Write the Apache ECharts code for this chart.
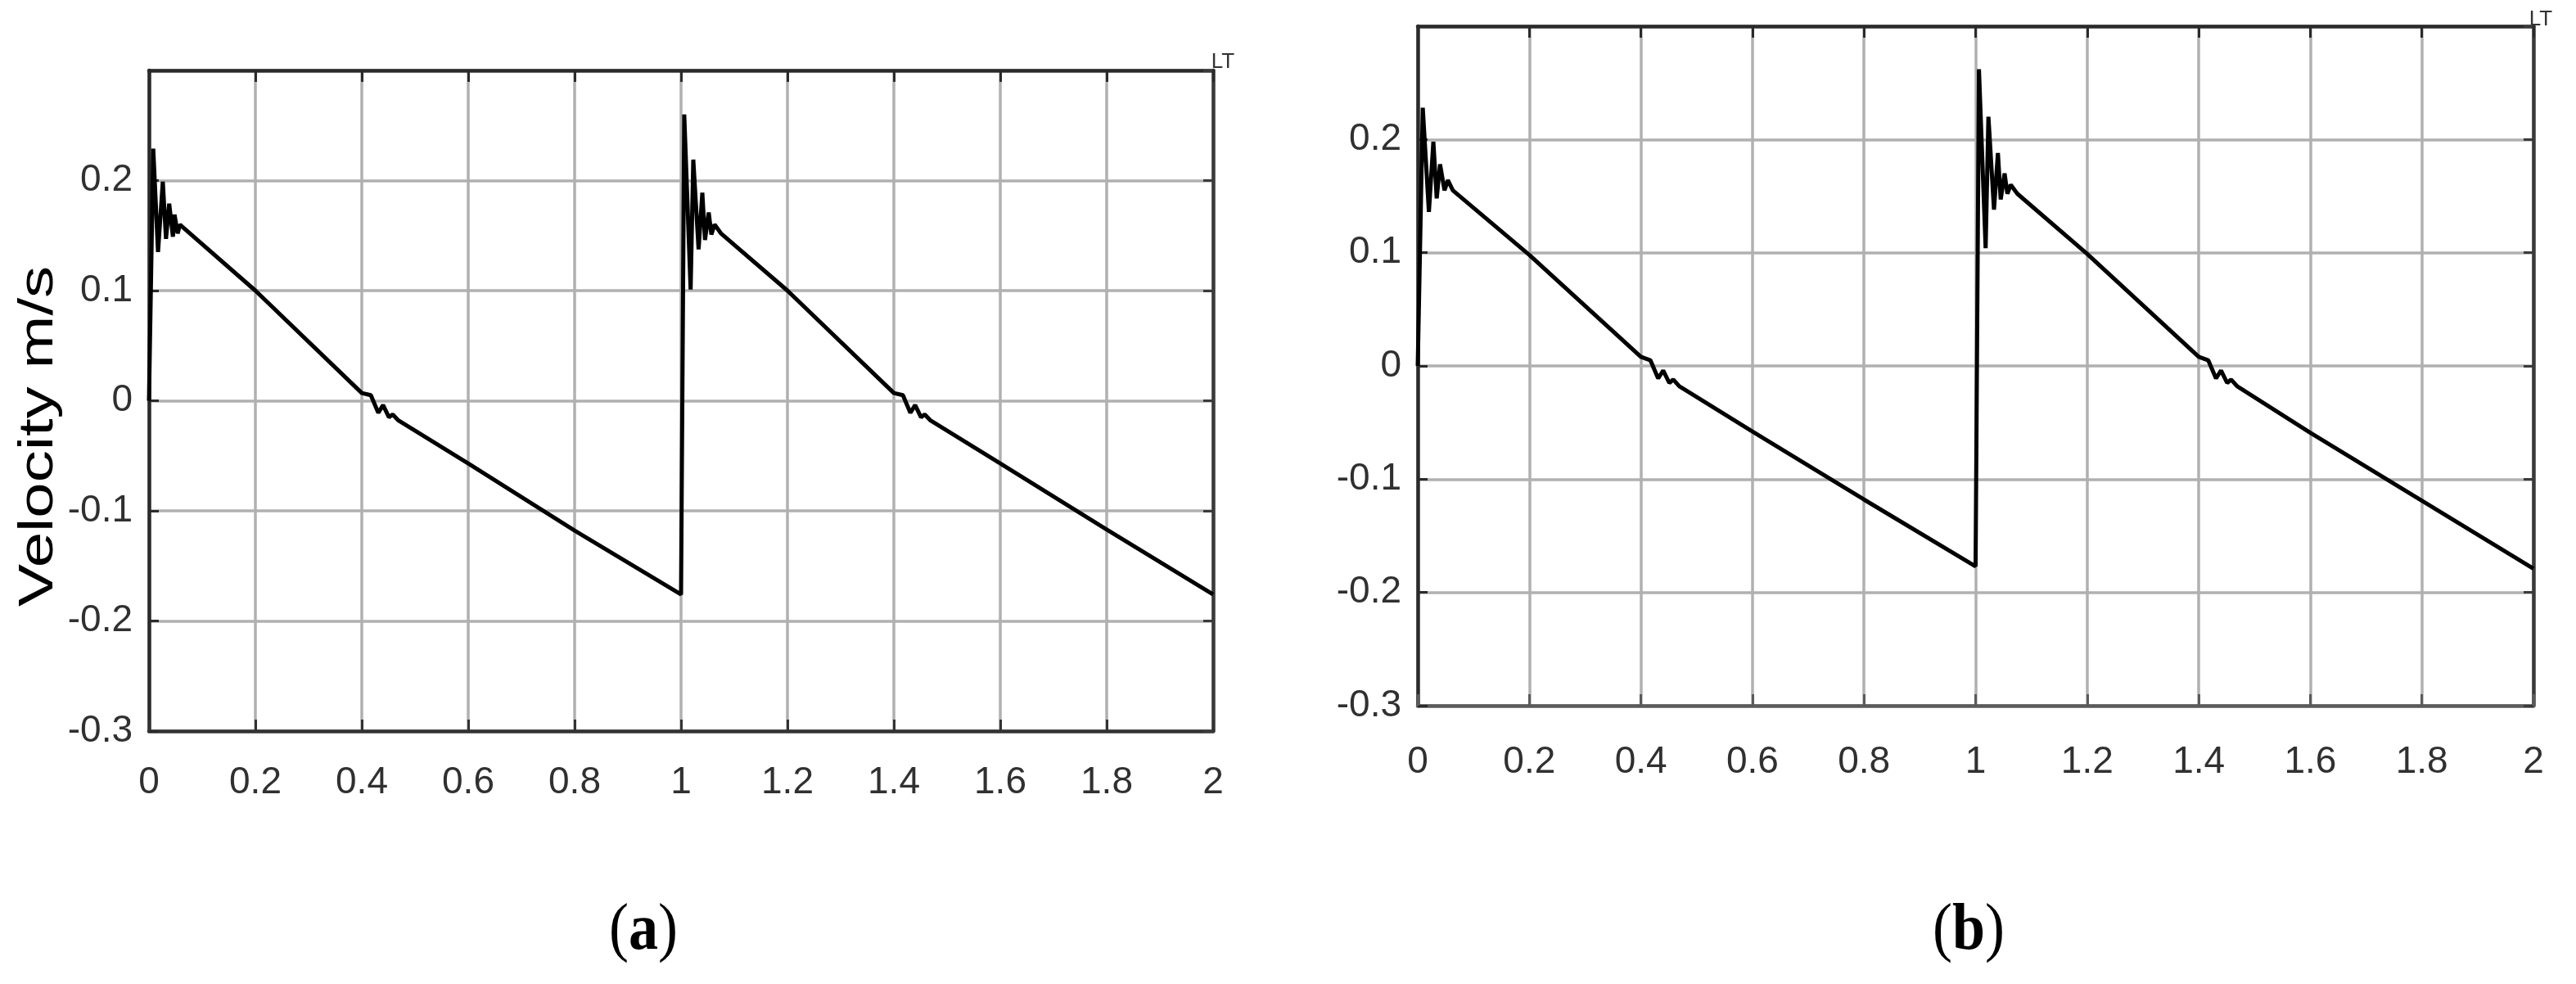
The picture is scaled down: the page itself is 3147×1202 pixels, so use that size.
<!DOCTYPE html>
<html>
<head>
<meta charset="utf-8">
<script src="https://cdn.jsdelivr.net/npm/echarts@6/dist/echarts.min.js"></script>
<style>
  html, body { margin: 0; padding: 0; background: #fff; }
  #chart { width: 3147px; height: 1202px; }
</style>
</head>
<body>
<div id="chart"></div>
<script>
// time (s) and velocity (m/s)
const timeA = [0, 0.008, 0.017, 0.026, 0.032, 0.038, 0.045, 0.048, 0.054, 0.058,
  0.2, 0.4, 0.417, 0.431, 0.44, 0.451, 0.458, 0.469, 0.6, 0.8, 1.0,
  1.006, 1.018, 1.023, 1.033, 1.04, 1.045, 1.052, 1.057, 1.063, 1.075,
  1.2, 1.4, 1.417, 1.431, 1.44, 1.451, 1.458, 1.469, 1.6, 1.8, 2.0]
const velA = [0, 0.229, 0.135, 0.199, 0.147, 0.179, 0.149, 0.169, 0.152, 0.16,
  0.1, 0.007, 0.005, -0.011, -0.004, -0.015, -0.0125, -0.018, -0.057, -0.118, -0.176,
  0.26, 0.101, 0.219, 0.1375, 0.189, 0.146, 0.171, 0.151, 0.16, 0.152,
  0.1, 0.007, 0.005, -0.011, -0.004, -0.015, -0.0125, -0.018, -0.057, -0.117, -0.176]

// panel (b)
const timeB = [0, 0.009, 0.02, 0.028, 0.034, 0.04, 0.048, 0.054, 0.063,
  0.2, 0.4, 0.417, 0.431, 0.44, 0.451, 0.458, 0.469, 0.6, 0.8, 1.0,
  1.006, 1.018, 1.023, 1.033, 1.04, 1.045, 1.052, 1.057, 1.063, 1.075,
  1.2, 1.4, 1.417, 1.431, 1.44, 1.451, 1.458, 1.469, 1.6, 1.8, 2.0]
const velB = [0, 0.228, 0.136, 0.198, 0.148, 0.178, 0.155, 0.164, 0.155,
  0.098, 0.008, 0.005, -0.011, -0.004, -0.015, -0.012, -0.018, -0.058, -0.118, -0.177,
  0.262, 0.104, 0.22, 0.138, 0.188, 0.147, 0.17, 0.152, 0.16, 0.152,
  0.099, 0.008, 0.005, -0.011, -0.004, -0.015, -0.012, -0.018, -0.059, -0.119, -0.179]

// axis ranges / tick steps
const xRange = [0, 2]
const xStep = 0.2
const yRange = [-0.3, 0.3]
const yStep = 0.1

const panelLabels = ['a', 'b']
const yName = 'Velocity m/s'

const tickFont = '"Liberation Sans", sans-serif'
const axisColor = '#2a2a2a'
const gridColor = '#b0b0b0'

function xAxes (gi, labelMargin, bottomColor) {
  return [{
    gridIndex: gi,
    type: 'value',
    position: 'bottom',
    min: xRange[0],
    max: xRange[1],
    interval: xStep,
    axisLine: { show: true, onZero: false, lineStyle: { color: bottomColor, width: 4.5 } },
    axisTick: { show: true, inside: true, length: 14, lineStyle: { color: bottomColor, width: 3 } },
    axisLabel: { margin: labelMargin, color: '#303030', fontSize: 46, fontFamily: tickFont },
    splitLine: { show: true, lineStyle: { color: gridColor, width: 3.5 } }
  }, {
    gridIndex: gi,
    type: 'value',
    position: 'top',
    min: xRange[0],
    max: xRange[1],
    interval: xStep,
    axisLine: { show: true, onZero: false, lineStyle: { color: axisColor, width: 4.5 } },
    axisTick: { show: true, inside: true, length: 14, lineStyle: { color: axisColor, width: 3 } },
    axisLabel: { show: false },
    splitLine: { show: false }
  }]
}

function yAxes (gi) {
  return [{
    gridIndex: gi,
    type: 'value',
    position: 'left',
    min: yRange[0],
    max: yRange[1],
    interval: yStep,
    axisLine: { show: true, onZero: false, lineStyle: { color: axisColor, width: 4.5 } },
    axisTick: { show: true, inside: true, length: 12, lineStyle: { color: axisColor, width: 3 } },
    axisLabel: {
      margin: 20, color: '#303030', fontSize: 46, fontFamily: tickFont,
      showMaxLabel: false, padding: [20, 0, 0, 0]
    },
    splitLine: { show: true, lineStyle: { color: gridColor, width: 3.5 } }
  }, {
    gridIndex: gi,
    type: 'value',
    position: 'right',
    min: yRange[0],
    max: yRange[1],
    interval: yStep,
    axisLine: { show: true, onZero: false, lineStyle: { color: '#3a3a3a', width: 4.5 } },
    axisTick: { show: true, inside: true, length: 12, lineStyle: { color: '#3a3a3a', width: 3 } },
    axisLabel: { show: false },
    splitLine: { show: false }
  }]
}

function panelText (x, y, letter) {
  return {
    type: 'text',
    x: x,
    y: y,
    scaleX: 0.9,
    style: {
      text: '{p|(}{b|' + letter + '}{p|)}',
      align: 'center',
      verticalAlign: 'middle',
      textAlign: 'center',
      textVerticalAlign: 'middle',
      rich: {
        p: { fontFamily: '"Liberation Serif", serif', fontSize: 80, fill: '#000', color: '#000' },
        b: { fontFamily: '"Liberation Serif", serif', fontSize: 80, fontWeight: 'bold', fill: '#000', color: '#000' }
      }
    }
  }
}

const chart = echarts.init(document.getElementById('chart'), null, { renderer: 'canvas' })

const option = {
  animation: false,
  backgroundColor: '#fff',
  grid: [
    { left: 182, top: 86, width: 1300, height: 807, containLabel: false, outerBoundsMode: 'none' },
    { left: 1732, top: 32, width: 1363, height: 830, containLabel: false, outerBoundsMode: 'none' }
  ],
  xAxis: xAxes(0, 40, '#333').concat(xAxes(1, 46, '#5a5a5a')),
  yAxis: yAxes(0).concat(yAxes(1)),
  series: [
    {
      type: 'line',
      xAxisIndex: 0,
      yAxisIndex: 0,
      data: timeA.map((t, i) => [t, velA[i]]),
      showSymbol: false,
      silent: true,
      lineStyle: { color: '#000', width: 5 }
    },
    {
      type: 'line',
      xAxisIndex: 2,
      yAxisIndex: 2,
      data: timeB.map((t, i) => [t, velB[i]]),
      showSymbol: false,
      silent: true,
      lineStyle: { color: '#000', width: 5 }
    }
  ],
  graphic: [
    {
      type: 'text',
      x: 48,
      y: 533,
      rotation: Math.PI / 2,
      scaleY: 0.75,
      style: {
        text: yName,
        fontFamily: '"Liberation Sans", sans-serif',
        fontSize: 78,
        fill: '#000',
        align: 'center',
        verticalAlign: 'middle',
        textAlign: 'center',
        textVerticalAlign: 'middle'
      }
    },
    panelText(786, 1138, panelLabels[0]),
    panelText(2405, 1138, panelLabels[1]),
    {
      type: 'text',
      x: 1494,
      y: 76,
      style: { text: 'LT', fontFamily: tickFont, fontSize: 26, fill: '#333', align: 'center', verticalAlign: 'middle' }
    },
    {
      type: 'text',
      x: 3104,
      y: 24,
      style: { text: 'LT', fontFamily: tickFont, fontSize: 26, fill: '#333', align: 'center', verticalAlign: 'middle' }
    }
  ]
}

chart.setOption(option)
</script>
</body>
</html>
